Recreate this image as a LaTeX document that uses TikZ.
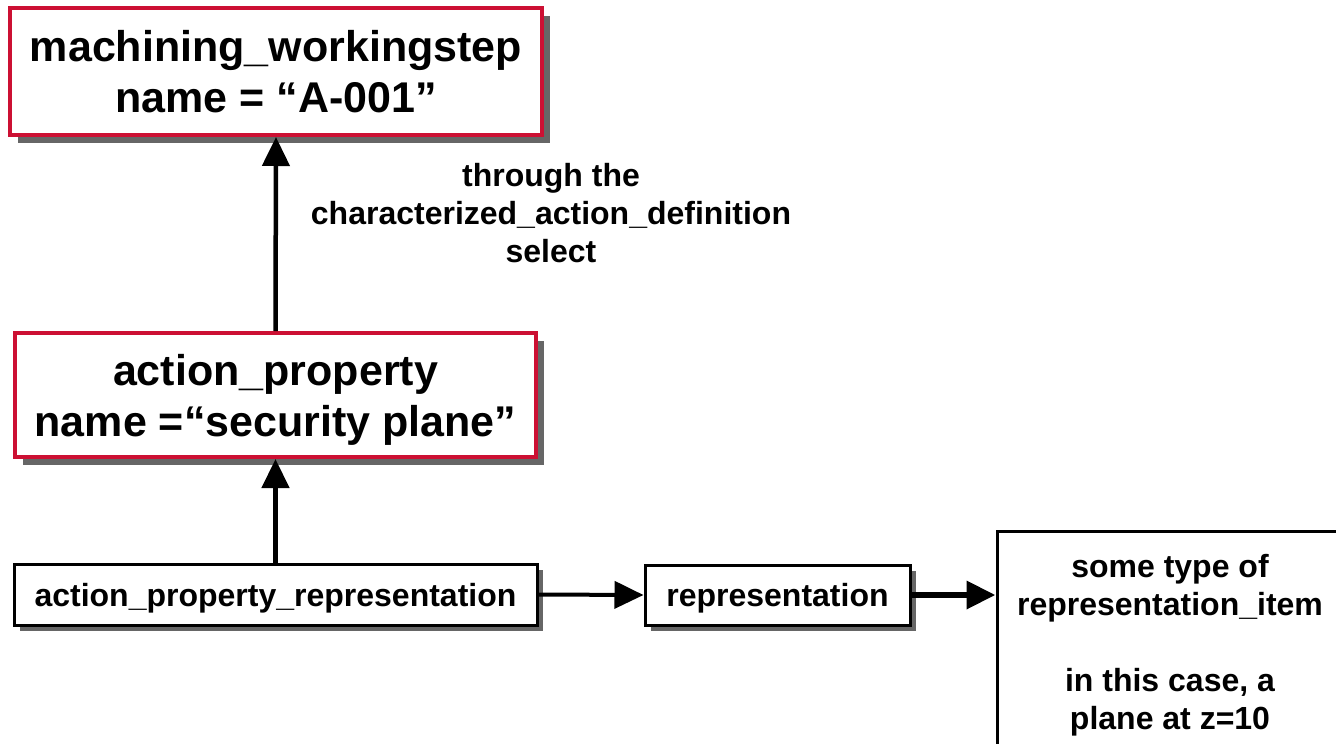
\documentclass[tikz,border=0pt]{standalone}
\usepackage{fontspec}
\setmainfont{Liberation Sans}
\usetikzlibrary{arrows.meta,shadows}
\definecolor{stepred}{RGB}{204,16,51}

\begin{document}
\begin{tikzpicture}
  [x=1pt,y=-1pt,
    every node/.style={font=\bfseries,align=center,inner sep=0pt,text depth=0pt},
    bigtext/.style={font=\bfseries\fontsize{43}{51}\selectfont},
    smalltext/.style={font=\bfseries\fontsize{32}{38}\selectfont},
    redbox/.style={bigtext,draw=stepred,line width=4pt,fill=white,
      drop shadow={shadow xshift=8pt,shadow yshift=-8pt,fill=black!60,opacity=1}},
    blackbox/.style={smalltext,draw=black,line width=3pt,fill=white,
      drop shadow={shadow xshift=6pt,shadow yshift=-6pt,fill=black!60,opacity=1}},
    arr/.style={line width=4.5pt,-{Triangle[length=29pt,width=27pt]}},
  ]
  \useasboundingbox (0,0) rectangle (1336,744);
  \clip (0,0) rectangle (1336,744);
  \fill[white] (0,0) rectangle (1336,744);

  \node[redbox,minimum width=532,minimum height=127] (ws) at (276,71.5)
    {machining\_workingstep\\name = “A-001”};
  \node[redbox,minimum width=521,minimum height=124] (prop) at (275.5,395)
    {action\_property\\name =“security plane”};
  \node[blackbox,minimum width=523,minimum height=61] (apr) at (275.5,594.5)
    {action\_property\_representation};
  \node[blackbox,minimum width=265,minimum height=60] (rep) at (777.5,595)
    {representation};
  \node[smalltext,draw=black,line width=3pt,fill=white,minimum width=346,minimum height=221] (item) at (1170,641.5)
    {some type of\\representation\_item\\[38pt]in this case, a\\plane at z=10};
  \node[smalltext] (via) at (551,213)
    {through the\\characterized\_action\_definition\\select};

  \draw[arr] (prop.north) -- (ws.south);
  \draw[arr] (apr.north) -- (prop.south);
  \draw[arr,line width=4pt] (apr.east) -- (rep.west);
  \draw[arr,line width=6.5pt] (rep.east) -- (rep.east -| item.west);
\end{tikzpicture}
\end{document}
